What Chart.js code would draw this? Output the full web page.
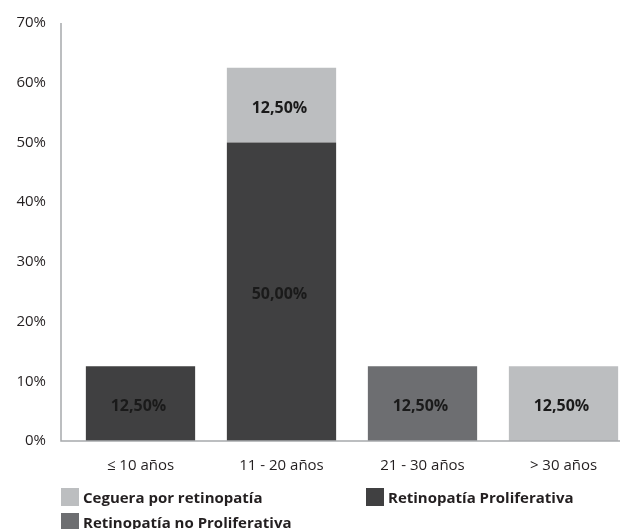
<!DOCTYPE html>
<html>
<head>
<meta charset="utf-8">
<script src="https://cdn.jsdelivr.net/npm/chart.js@4"></script>
<style>
  html, body { margin: 0; padding: 0; background: #fff; }
  #wrap { position: relative; width: 620px; height: 529px; overflow: hidden; }
  #chart { position: absolute; left: 0; top: -10px; }
  .leg { position: absolute; display: flex; align-items: center; height: 18px; font: bold 15px "Open Sans", sans-serif; color: #231f20; white-space: nowrap; }
  .leg span { display: inline-block; width: 18px; height: 18px; margin-right: 4px; }
</style>
</head>
<body>
<div id="wrap">
  <canvas id="chart" width="634" height="539"></canvas>
</div>
<script>
// Categories and series (percent of patients)
const categories = ['≤ 10 años', '11 - 20 años', '21 - 30 años', '> 30 años'];
const proliferativa = [12.5, 50, null, null];
const noProliferativa = [null, null, 12.5, null];
const ceguera = [null, 12.5, null, 12.5];
const yTicks = [0, 10, 20, 30, 40, 50, 60, 70];

const colors = {
    proliferativa: '#404041',
    noProliferativa: '#6d6e71',
    ceguera: '#bcbec0'
};

// Axis lines start a bit left of the first category
const axisLines = {
    id: 'axisLines',
    afterDatasetsDraw(chart) {
        const { ctx, chartArea } = chart;
        const x0 = chartArea.left - 9;
        ctx.save();
        ctx.strokeStyle = '#a7a9ac';
        ctx.lineWidth = 1.5;
        ctx.beginPath();
        ctx.moveTo(x0, chartArea.top);
        ctx.lineTo(x0, chartArea.bottom);
        ctx.lineTo(620, chartArea.bottom);
        ctx.stroke();
        ctx.restore();
    }
};

// Value labels centred in each segment
const valueLabels = {
    id: 'valueLabels',
    afterDatasetsDraw(chart) {
        const { ctx } = chart;
        ctx.save();
        ctx.font = 'bold 16px "Open Sans", sans-serif';
        ctx.fillStyle = '#1a1a1a';
        ctx.textAlign = 'center';
        ctx.textBaseline = 'middle';
        chart.data.datasets.forEach((ds, i) => {
            chart.getDatasetMeta(i).data.forEach((bar, j) => {
                const v = ds.data[j];
                if (v == null) return;
                const y = (bar.y + bar.base) / 2 + 3;
                ctx.fillText(v.toFixed(2).replace('.', ',') + '%', bar.x - 2, y);
            });
        });
        ctx.restore();
    }
};

const datasets = [
    { label: 'Retinopatía Proliferativa', data: proliferativa, backgroundColor: colors.proliferativa },
    { label: 'Retinopatía no Proliferativa', data: noProliferativa, backgroundColor: colors.noProliferativa },
    { label: 'Ceguera por retinopatía', data: ceguera, backgroundColor: colors.ceguera }
];

new Chart(document.getElementById('chart').getContext('2d'), {
    type: 'bar',
    data: { labels: categories, datasets: datasets },
    options: {
        responsive: false,
        animation: false,
        layout: { padding: { top: 12, right: 0, bottom: 0, left: 0 } },
        datasets: { bar: { categoryPercentage: 1, barPercentage: 0.775 } },
        plugins: { legend: { display: false }, tooltip: { enabled: false } },
        scales: {
            x: {
                stacked: true,
                grid: { display: false, drawTicks: false },
                border: { display: false },
                ticks: { color: '#231f20', padding: 16, font: { family: 'Open Sans', size: 15 } },
                afterFit: s => { s.height = 88; }
            },
            y: {
                stacked: true,
                min: 0,
                max: 70,
                grid: { display: false, drawTicks: false },
                border: { display: false },
                afterBuildTicks: s => { s.ticks = yTicks.map(v => ({ value: v })); },
                ticks: {
                    color: '#231f20',
                    padding: 24,
                    font: { family: 'Open Sans', size: 15 },
                    callback: v => v + '%'
                },
                afterFit: s => { s.width = 70; }
            }
        }
    },
    plugins: [axisLines, valueLabels]
});

// Legend laid out like the original (two columns, second row below)
const legendPos = {
    'Ceguera por retinopatía': [61, 488],
    'Retinopatía Proliferativa': [366, 488],
    'Retinopatía no Proliferativa': [61, 513]
};
const wrap = document.getElementById('wrap');
datasets.forEach(ds => {
    const [x, y] = legendPos[ds.label];
    const el = document.createElement('div');
    el.className = 'leg';
    el.style.left = x + 'px';
    el.style.top = y + 'px';
    el.innerHTML = '<span style="background:' + ds.backgroundColor + '"></span>' + ds.label;
    wrap.appendChild(el);
});
</script>
</body>
</html>
